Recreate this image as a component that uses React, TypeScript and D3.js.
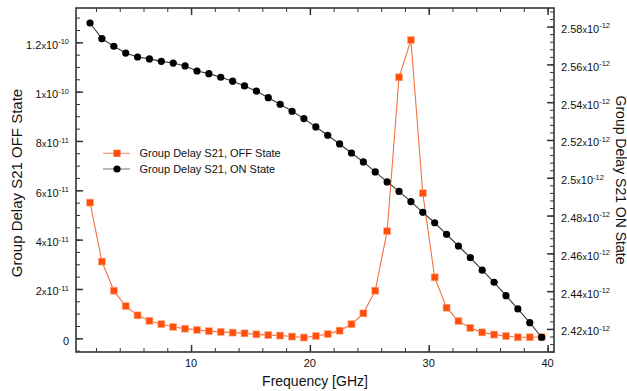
import { useEffect, useRef } from "react"
import * as d3 from "d3"

// frequency points [GHz]
const freq = [1.5, 2.5, 3.5, 4.5, 5.5, 6.5, 7.5, 8.5, 9.5, 10.5, 11.5, 12.5, 13.5, 14.5, 15.5, 16.5, 17.5, 18.5, 19.5, 20.5,
  21.5, 22.5, 23.5, 24.5, 25.5, 26.5, 27.5, 28.5, 29.5, 30.5, 31.5, 32.5, 33.5, 34.5, 35.5, 36.5, 37.5, 38.5, 39.5]
// OFF state group delay, in units of 1e-11 s (left axis)
const offState = [5.50, 3.11, 1.93, 1.30, 0.93, 0.71, 0.57, 0.46, 0.39, 0.34, 0.29, 0.26, 0.23, 0.20, 0.16, 0.13, 0.11, 0.07, 0.03, 0.09,
  0.17, 0.31, 0.57, 1.01, 1.93, 4.34, 10.58, 12.09, 5.88, 2.47, 1.24, 0.70, 0.42, 0.24, 0.15, 0.09, 0.04, 0.04, 0.05]
// ON state group delay, in units of 1e-12 s (right axis)
const onState = [2.5819, 2.5736, 2.5696, 2.5660, 2.5639, 2.5629, 2.5616, 2.5607, 2.5592, 2.5565, 2.5551, 2.5532, 2.5511, 2.5486,
  2.5459, 2.5424, 2.5389, 2.5352, 2.5313, 2.5269, 2.5225, 2.5179, 2.5131, 2.5084, 2.5031, 2.4978, 2.4928, 2.4874, 2.4817, 2.4762,
  2.4701, 2.4639, 2.4577, 2.4511, 2.4447, 2.4376, 2.4306, 2.4233, 2.4156]

const xTicks = [10, 20, 30, 40]
const leftTicks = [0, 2e-11, 4e-11, 6e-11, 8e-11, 1e-10, 1.2e-10]
const leftTickLabels = ["0", "2x10^-11", "4x10^-11", "6x10^-11", "8x10^-11", "1x10^-10", "1.2x10^-10"]
const rightTicks = [2.42e-12, 2.44e-12, 2.46e-12, 2.48e-12, 2.5e-12, 2.52e-12, 2.54e-12, 2.56e-12, 2.58e-12]
const rightTickLabels = ["2.42x10^-12", "2.44x10^-12", "2.46x10^-12", "2.48x10^-12", "2.5x10^-12", "2.52x10^-12", "2.54x10^-12", "2.56x10^-12", "2.58x10^-12"]
const seriesNames = ["Group Delay S21, OFF State", "Group Delay S21, ON State"]

const W = 627, H = 391
const L = 76, R = 554, T = 8, B = 352
const FONT = "'Liberation Sans', Arial, Helvetica, sans-serif"
const ORANGE = "#ff4f0a", ORANGE_LINE = "#f2703f", DARK_LINE = "#3a3a3a", AXIS = "#333"

export default function App() {
  const ref = useRef<SVGSVGElement>(null)
  useEffect(() => {
    if (!ref.current) return
    const svg = d3.select(ref.current)
    svg.selectAll("*").remove()
    svg.style("font-family", FONT)

    const x = d3.scaleLinear().domain([0.32, 40.54]).range([L, R])
    const yL = d3.scaleLinear().domain([-5.56e-12, 1.339e-10]).range([B, T])
    const yR = d3.scaleLinear().domain([2.4078e-12, 2.58984e-12]).range([B, T])

    const off = freq.map((f, i) => ({ f, v: offState[i] * 1e-11 }))
    const on = freq.map((f, i) => ({ f, v: onState[i] * 1e-12 }))

    const tickStyle = (w: number) => (g: any) => {
      g.select(".domain").remove()
      g.selectAll("line").attr("stroke", AXIS).attr("stroke-width", w)
      g.selectAll("text").remove()
    }
    const xMinor = d3.range(2, 41, 2)
    const lMinor = d3.range(-5e-12, 1.34e-10, 5e-12)
    const rMinor = d3.range(2.408e-12, 2.5898e-12, 0.004e-12)
    const none = () => ""

    svg.append("g").attr("transform", `translate(0,${B})`).call(d3.axisBottom(x).tickValues(xMinor).tickSize(-4).tickFormat(none)).call(tickStyle(1))
    svg.append("g").attr("transform", `translate(0,${B})`).call(d3.axisBottom(x).tickValues(xTicks).tickSize(-7).tickFormat(none)).call(tickStyle(1.5))
    svg.append("g").attr("transform", `translate(0,${T})`).call(d3.axisTop(x).tickValues(xMinor).tickSize(-4).tickFormat(none)).call(tickStyle(1))
    svg.append("g").attr("transform", `translate(0,${T})`).call(d3.axisTop(x).tickValues(xTicks).tickSize(-7).tickFormat(none)).call(tickStyle(1.5))
    svg.append("g").attr("transform", `translate(${L},0)`).call(d3.axisLeft(yL).tickValues(lMinor).tickSize(-4).tickFormat(none)).call(tickStyle(1))
    svg.append("g").attr("transform", `translate(${L},0)`).call(d3.axisLeft(yL).tickValues(leftTicks).tickSize(-7).tickFormat(none)).call(tickStyle(1.5))
    svg.append("g").attr("transform", `translate(${R},0)`).call(d3.axisRight(yR).tickValues(rMinor).tickSize(-4).tickFormat(none)).call(tickStyle(1))
    svg.append("g").attr("transform", `translate(${R},0)`).call(d3.axisRight(yR).tickValues(rightTicks).tickSize(-7).tickFormat(none)).call(tickStyle(1.5))

    svg.append("rect").attr("x", L).attr("y", T).attr("width", R - L).attr("height", B - T)
      .attr("fill", "none").attr("stroke", AXIS).attr("stroke-width", 1.6)

    // tick labels
    svg.selectAll(".xl").data(xTicks).join("text").attr("class", "xl")
      .attr("x", d => x(d)).attr("y", 367).attr("text-anchor", "middle")
      .style("font-size", "11px").style("fill", "#111").text(d => String(d))

    const sciLabel = (t: any, s: string) => {
      if (!s.includes("x10^")) { t.append("tspan").style("font-size", "11px").text(s); return }
      const [m, e] = s.split("x10^")
      t.append("tspan").style("font-size", "11px").text(m)
      t.append("tspan").style("font-size", "9px").text("x")
      t.append("tspan").style("font-size", "11px").text("10")
      t.append("tspan").style("font-size", "7.5px").attr("dy", -4.5).text(e)
    }
    leftTicks.forEach((v, i) => {
      const t = svg.append("text").attr("x", 69).attr("y", yL(v)).attr("dy", "0.4em")
        .attr("text-anchor", "end").style("fill", "#111")
      sciLabel(t, leftTickLabels[i])
    })
    rightTicks.forEach((v, i) => {
      const t = svg.append("text").attr("x", 561).attr("y", yR(v)).attr("dy", "0.4em")
        .attr("text-anchor", "start").style("fill", "#111")
      sciLabel(t, rightTickLabels[i])
    })

    // axis titles
    svg.append("text").attr("x", (L + R) / 2).attr("y", 386).attr("text-anchor", "middle")
      .style("font-size", "14px").style("fill", "#111").text("Frequency [GHz]")
    svg.append("text").attr("transform", `translate(22,${(T + B) / 2 + 3}) rotate(-90)`).attr("text-anchor", "middle")
      .style("font-size", "15px").style("fill", "#111").text("Group Delay S21 OFF State")
    svg.append("text").attr("transform", `translate(615.5,${(T + B) / 2}) rotate(90)`).attr("text-anchor", "middle")
      .style("font-size", "14px").style("fill", "#111").text("Group Delay S21 ON State")

    // OFF series
    const lineOff = d3.line<{ f: number; v: number }>().x(d => x(d.f)).y(d => yL(d.v))
    svg.append("path").datum(off).attr("d", lineOff).attr("fill", "none").attr("stroke", ORANGE_LINE).attr("stroke-width", 1.1)
    svg.selectAll(".sq").data(off).join("rect").attr("class", "sq")
      .attr("x", d => x(d.f) - 3.5).attr("y", d => yL(d.v) - 3.5).attr("width", 7).attr("height", 7)
      .attr("fill", ORANGE).attr("stroke", "#ffb08a").attr("stroke-width", 0.6)

    // ON series
    const lineOn = d3.line<{ f: number; v: number }>().x(d => x(d.f)).y(d => yR(d.v))
    svg.append("path").datum(on).attr("d", lineOn).attr("fill", "none").attr("stroke", DARK_LINE).attr("stroke-width", 1.1)
    svg.selectAll(".ci").data(on).join("circle").attr("class", "ci")
      .attr("cx", d => x(d.f)).attr("cy", d => yR(d.v)).attr("r", 3.6).attr("fill", "#000")

    // legend
    const lg = svg.append("g")
    const legY = [153.3, 169]
    lg.append("line").attr("x1", 103).attr("x2", 130).attr("y1", legY[0]).attr("y2", legY[0]).attr("stroke", "#f49a78").attr("stroke-width", 1.2)
    lg.append("rect").attr("x", 117 - 3.5).attr("y", legY[0] - 3.5).attr("width", 7).attr("height", 7).attr("fill", ORANGE)
    lg.append("line").attr("x1", 103).attr("x2", 130).attr("y1", legY[1]).attr("y2", legY[1]).attr("stroke", "#8a8a8a").attr("stroke-width", 1.2)
    lg.append("circle").attr("cx", 117).attr("cy", legY[1]).attr("r", 3.6).attr("fill", "#000")
    seriesNames.forEach((n, i) => {
      lg.append("text").attr("x", 139.5).attr("y", legY[i]).attr("dy", "0.36em")
        .style("font-size", "11px").style("fill", "#111").text(n)
    })
  }, [])
  return <svg ref={ref} width={W} height={H} style={{ position: "absolute", left: 0, top: 0, display: "block", background: "#fff" }} />
}
